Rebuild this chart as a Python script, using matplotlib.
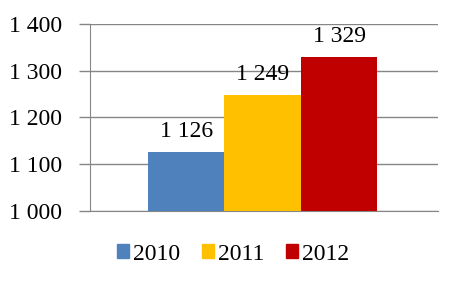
import matplotlib.pyplot as plt
import numpy as np

years = ['2010', '2011', '2012']
values = [1126, 1249, 1329]
labels = ['1 126', '1 249', '1 329']
colors = ['#4F81BD', '#FFC000', '#C00000']
yticks = [1000, 1100, 1200, 1300, 1400]
yticklabels = ['1 000', '1 100', '1 200', '1 300', '1 400']

FONT = 'Liberation Serif'
plt.rcParams['font.family'] = FONT

fig = plt.figure(figsize=(4.58, 2.88), dpi=100)
ax = fig.add_axes([0.1965, 0.2674, 0.7595, 0.6493])

x = np.arange(len(years))
ax.bar(x, [v - 1000 for v in values], bottom=1000, width=1.0,
       color=colors, zorder=3)
for xi, v, lab in zip(x, values, labels):
  ax.text(xi, v + 21, lab, ha='center', va='bottom', fontsize=17, family=FONT)

ax.set_ylim(1000, 1400)
ax.set_xlim(-1.258, 3.291)
ax.set_yticks(yticks)
ax.set_yticklabels(yticklabels, fontsize=17, family=FONT)
ax.set_xticks([])
ax.yaxis.grid(True, color='#868686', linewidth=1, zorder=0)
ax.tick_params(axis='y', length=8, color='#868686', width=1, pad=12)
for s in ['top', 'right']:
  ax.spines[s].set_visible(False)
for s in ['left', 'bottom']:
  ax.spines[s].set_color('#868686')

handles = [plt.Rectangle((0, 0), 1, 1, color=c) for c in colors]
fig.legend(handles, years, loc='center', bbox_to_anchor=(0.509, 0.118), ncol=3,
           frameon=False, prop={'family': FONT, 'size': 17},
           handlelength=0.5, handleheight=0.5,
           handletextpad=0.17, columnspacing=0.93)

fig.savefig('out.png', dpi=100)
